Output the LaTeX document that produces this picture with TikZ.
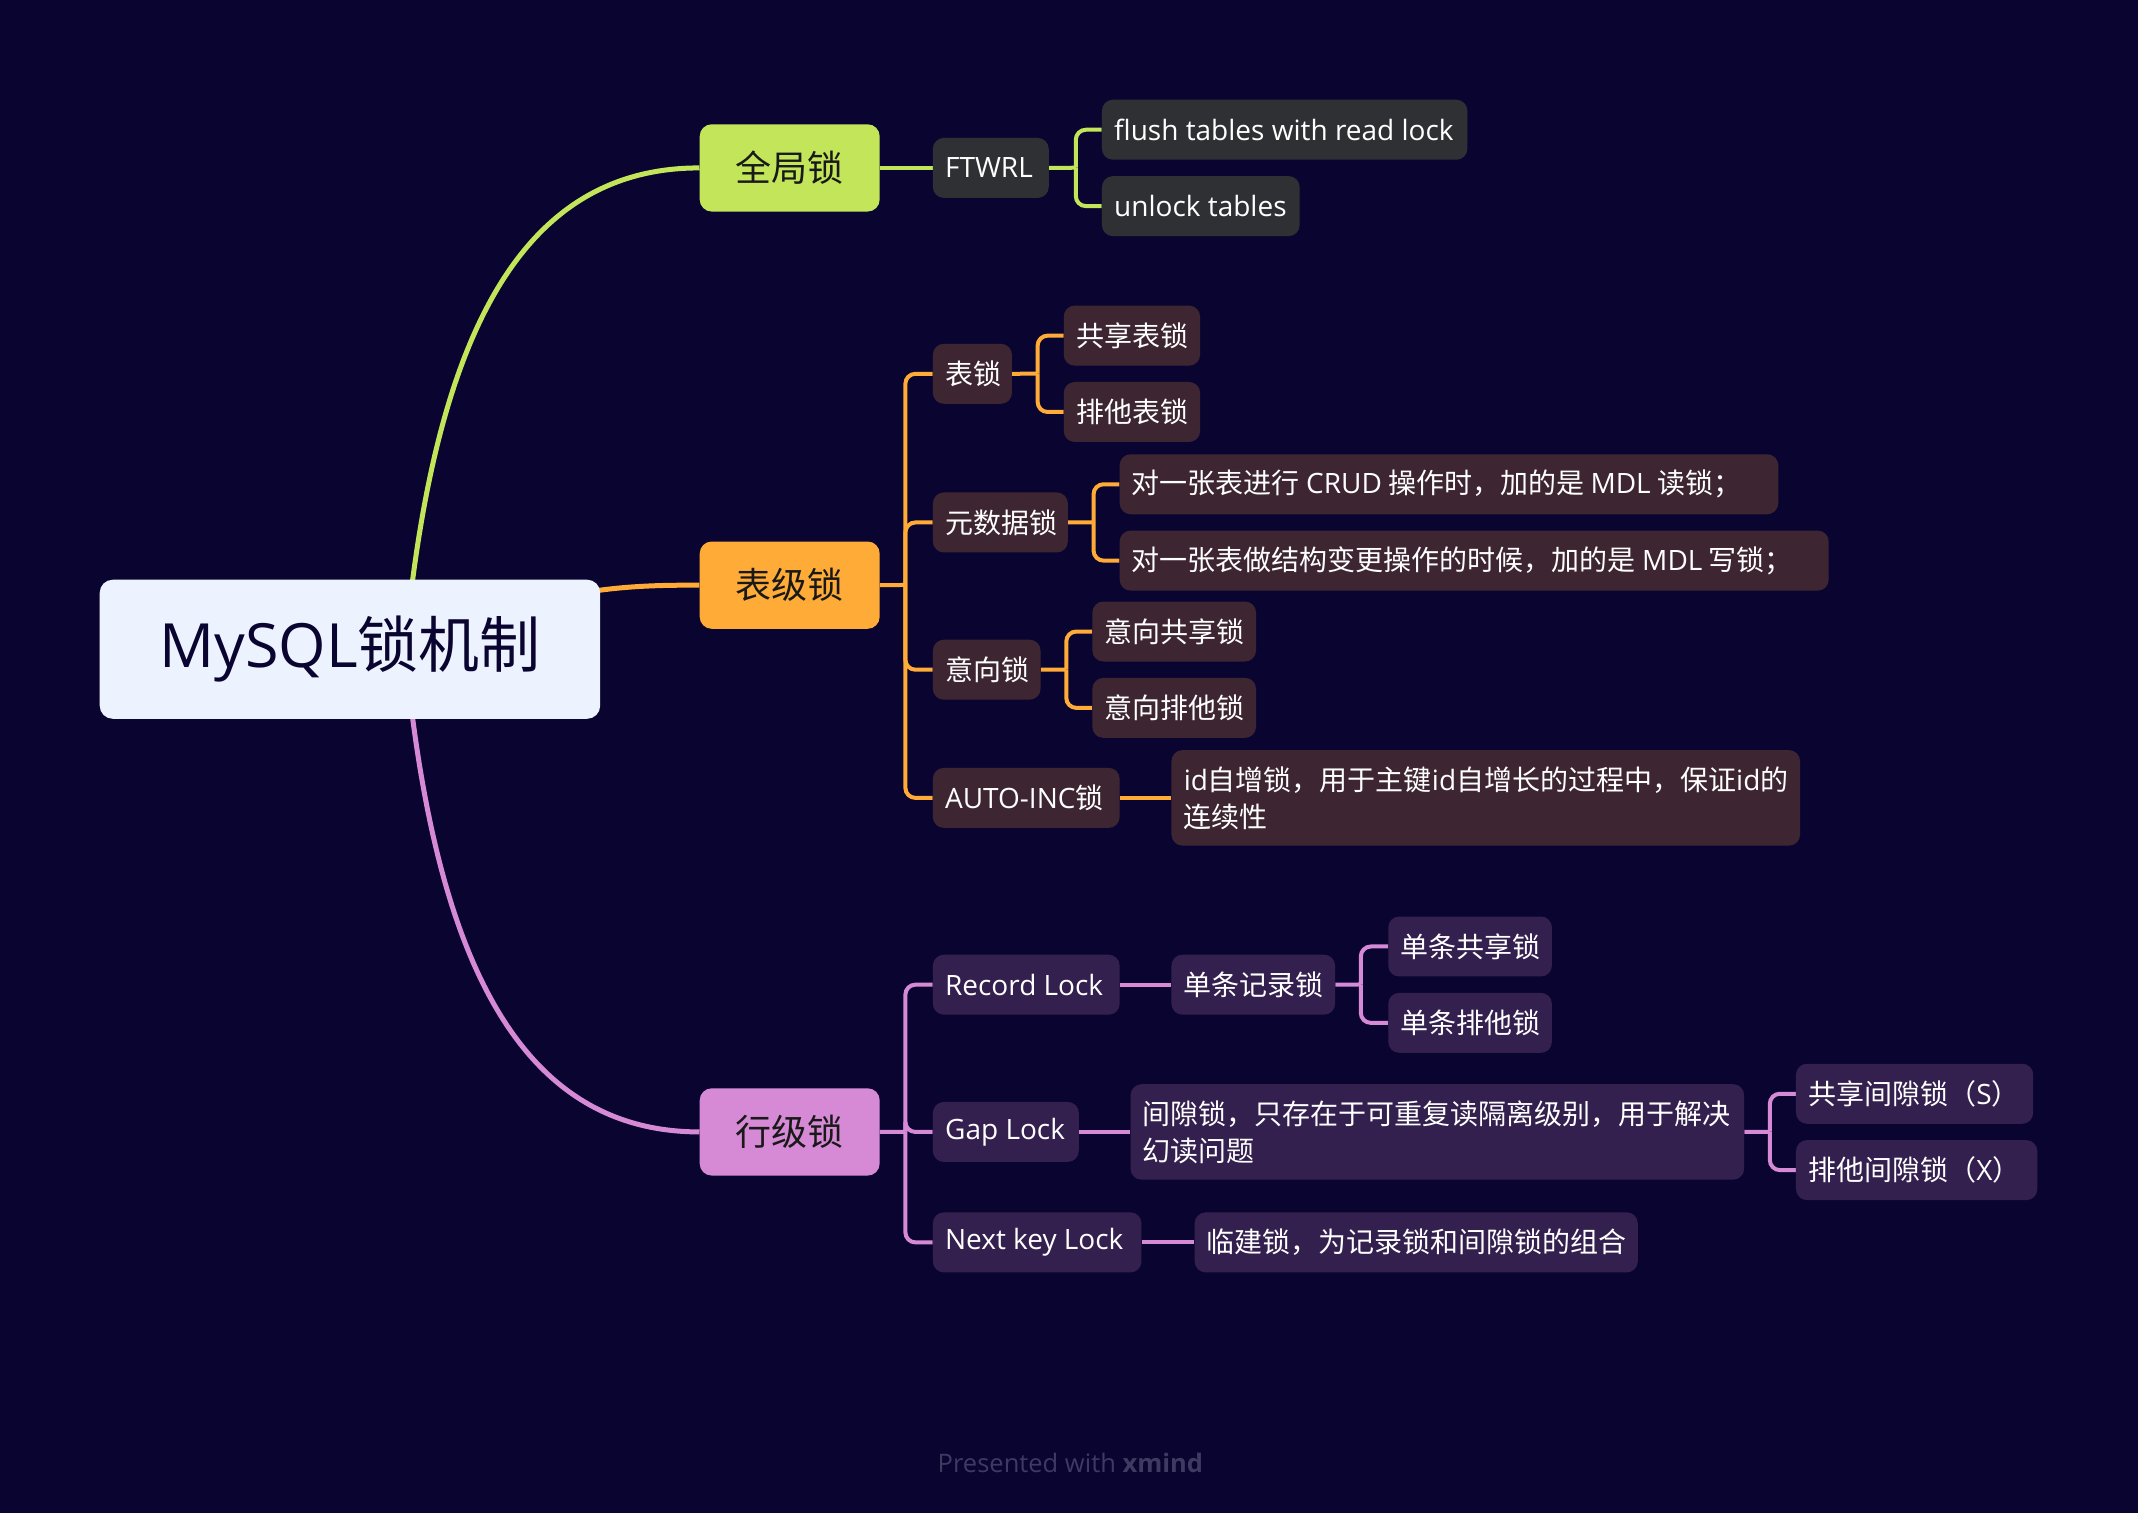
\documentclass[tikz,border=0pt]{standalone}
\usepackage{fontspec}
\setmainfont{Noto Sans CJK SC}
\newfontfamily\lat{Open Sans}
\usetikzlibrary{backgrounds}
\definecolor{bgc}{HTML}{0A0530}
\definecolor{rootfill}{HTML}{EDF3FE}
\definecolor{limec}{HTML}{C3E55A}
\definecolor{orangec}{HTML}{FFAB38}
\definecolor{pinkc}{HTML}{D68AD6}
\definecolor{gbox}{HTML}{2F3034}
\definecolor{obox}{HTML}{3D2632}
\definecolor{pbox}{HTML}{34204E}
\definecolor{footc}{HTML}{3F3A62}
\tikzset{
  box/.style={rounded corners=11pt, inner sep=0pt, text=white, align=flush left, font=\fontsize{28}{37}\selectfont},
  gb/.style={box, fill=gbox},
  ob/.style={box, fill=obox},
  pb/.style={box, fill=pbox},
  lone/.style={rounded corners=12pt, inner sep=0pt, text=black!90, align=center, font=\fontsize{36}{42}\selectfont},
  rootst/.style={rounded corners=13pt, inner sep=0pt, fill=rootfill, text=bgc, align=center, font=\fontsize{61}{70}\selectfont},
  conn/.style={line width=4pt},
  rconn/.style={line width=5pt},
  br/.style={conn, rounded corners=10pt}
}
% single-line box
\newcommand\bx[7]{\pgfmathsetmacro\tw{(#4-#2-18)*1.3635}\node[#6, anchor=north west, text width=\tw pt, minimum width={(#4-#2)*1.3635pt}, minimum height={(#5-#3)*1.3635pt}] (#1) at (#2,#3) {\mbox{#7}};}
% multi-line box
\newcommand\bxm[7]{\pgfmathsetmacro\tw{(#4-#2-18)*1.3635}\node[#6, anchor=north west, text width=\tw pt, minimum width={(#4-#2)*1.3635pt}, minimum height={(#5-#3)*1.3635pt}] (#1) at (#2,#3) {#7};}
\begin{document}
\begin{tikzpicture}[x=1.3635pt, y=-1.3635pt]
\useasboundingbox (0,0) rectangle (1568,1109);

% root
\bx{root}{73}{425}{440}{527}{rootst}{{\lat MySQL}锁机制}

% level 1
\bx{g}{513}{91}{645}{155}{lone, fill=limec}{全局锁}
\bx{t}{513}{397}{645}{461}{lone, fill=orangec}{表级锁}
\bx{h}{513}{798}{645}{862}{lone, fill=pinkc}{行级锁}

% global lock branch
\bx{ftwrl}{684}{101}{769}{145}{gb}{\lat FTWRL}
\bx{flush}{808}{73}{1076}{117}{gb}{\lat flush tables with read lock}
\bx{unlock}{808}{129}{953}{173}{gb}{\lat unlock tables}

% table lock branch
\bx{tb}{684}{252}{742}{296}{ob}{表锁}
\bx{tba}{780}{224}{880}{268}{ob}{共享表锁}
\bx{tbb}{780}{280}{880}{324}{ob}{排他表锁}
\bx{md}{684}{361}{783}{405}{ob}{元数据锁}
\bx{mda}{821}{333}{1304}{377}{ob}{对一张表进行 {\lat CRUD} 操作时，加的是 {\lat MDL} 读锁；}
\bx{mdb}{821}{389}{1341}{433}{ob}{对一张表做结构变更操作的时候，加的是 {\lat MDL} 写锁；}
\bx{yx}{684}{469}{763}{513}{ob}{意向锁}
\bx{yxa}{801}{441}{921}{485}{ob}{意向共享锁}
\bx{yxb}{801}{497}{921}{541}{ob}{意向排他锁}
\bx{ai}{684}{563}{821}{607}{ob}{{\lat AUTO-INC}锁}
\bxm{aia}{859}{550}{1320}{620}{ob}{{\lat id}自增锁，用于主键{\lat id}自增长的过程中，保证{\lat id}的\\连续性}

% row lock branch
\bx{rl}{684}{700}{821}{744}{pb}{\lat Record Lock}
\bx{rla}{859}{700}{979}{744}{pb}{单条记录锁}
\bx{rlaa}{1018}{672}{1138}{716}{pb}{单条共享锁}
\bx{rlab}{1018}{728}{1138}{772}{pb}{单条排他锁}
\bx{gl}{684}{808}{791}{852}{pb}{\lat Gap Lock}
\bxm{gla}{829}{795}{1279}{865}{pb}{间隙锁，只存在于可重复读隔离级别，用于解决\\幻读问题}
\bx{glaa}{1317}{780}{1491}{824}{pb}{共享间隙锁（{\lat S}）}
\bx{glab}{1317}{836}{1494}{880}{pb}{排他间隙锁（{\lat X}）}
\bx{nk}{684}{889}{837}{933}{pb}{\lat Next key Lock}
\bx{nka}{876}{889}{1201}{933}{pb}{临建锁，为记录锁和间隙锁的组合}

% footer
\node[text=footc, font=\lat\fontsize{25.5}{30}\selectfont] (foot) at (785,1073) {Presented with \textbf{xmind}};

\begin{pgfonlayer}{background}
\fill[bgc] (-5,-5) rectangle (1573,1114);
% root connectors
\draw[rconn, limec] (297,476) .. controls (318,250) and (380,123) .. (g.west);
\draw[rconn, orangec] (300,476) .. controls (400,432) and (450,429) .. (t.west);
\draw[rconn, pinkc] (297,476) .. controls (318,702) and (380,830) .. (h.west);

% lime
\draw[conn, limec] (g.east) -- (ftwrl.west);
\draw[conn, limec] (ftwrl.east) -- (789,123);
\draw[br, limec] (789,123) |- (flush.west);
\draw[br, limec] (789,123) |- (unlock.west);

% orange
\draw[conn, orangec] (t.east) -- (664,429);
\foreach \c in {tb,md,yx,ai} \draw[br, orangec] (664,429) |- (\c.west);
\draw[conn, orangec] (tb.east) -- (761,274);
\draw[br, orangec] (761,274) |- (tba.west);
\draw[br, orangec] (761,274) |- (tbb.west);
\draw[conn, orangec] (md.east) -- (802,383);
\draw[br, orangec] (802,383) |- (mda.west);
\draw[br, orangec] (802,383) |- (mdb.west);
\draw[conn, orangec] (yx.east) -- (782,491);
\draw[br, orangec] (782,491) |- (yxa.west);
\draw[br, orangec] (782,491) |- (yxb.west);
\draw[conn, orangec] (ai.east) -- (aia.west);

% pink
\draw[conn, pinkc] (h.east) -- (664,830);
\foreach \c in {rl,gl,nk} \draw[br, pinkc] (664,830) |- (\c.west);
\draw[conn, pinkc] (rl.east) -- (rla.west);
\draw[conn, pinkc] (rla.east) -- (998,722);
\draw[br, pinkc] (998,722) |- (rlaa.west);
\draw[br, pinkc] (998,722) |- (rlab.west);
\draw[conn, pinkc] (gl.east) -- (gla.west);
\draw[conn, pinkc] (gla.east) -- (1298,830);
\draw[br, pinkc] (1298,830) |- (glaa.west);
\draw[br, pinkc] (1298,830) |- (glab.west);
\draw[conn, pinkc] (nk.east) -- (nka.west);
\end{pgfonlayer}
\end{tikzpicture}
\end{document}
